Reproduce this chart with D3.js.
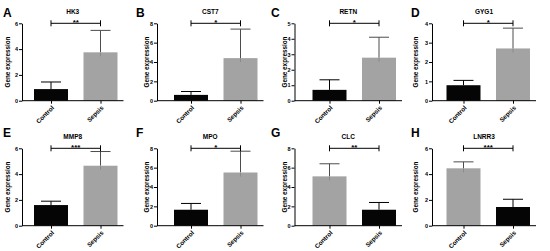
<!DOCTYPE html>
<html lang="en">
<head>
  <meta charset="UTF-8">
  <title>Gene expression</title>
  <script src="https://cdn.jsdelivr.net/npm/d3@7"></script>
  <style>
    body { margin: 0; background: #fff; }
    text { font-family: "Liberation Sans", Arial, sans-serif; fill: #000; }
  </style>
</head>
<body>
  <svg id="chart"></svg>
  <script>
    // data
    var letters = ["A", "B", "C", "D", "E", "F", "G", "H"];
    var genes = ["HK3", "CST7", "RETN", "GYG1", "MMP8", "MPO", "CLC", "LNRR3"];
    var groups = ["Control", "Sepsis"];
    var controlMean = [0.9, 0.6, 0.7, 0.8, 1.6, 1.65, 5.1, 4.45];
    var controlSD = [0.55, 0.35, 0.65, 0.25, 0.3, 0.65, 1.3, 0.5];
    var sepsisMean = [3.75, 4.4, 2.78, 2.7, 4.65, 5.5, 1.65, 1.45];
    var sepsisSD = [1.7, 3.0, 1.32, 1.05, 1.1, 2.2, 0.75, 0.6];
    var yMax = [6, 8, 5, 4, 6, 8, 8, 6];
    var yStep = [2, 2, 1, 1, 2, 2, 2, 2];
    var stars = ["**", "*", "*", "*", "***", "*", "**", "***"];

    // layout
    var width = 550, height = 251;
    var colAxisX = [22, 157, 294.5, 432];
    var colCenterOff = [29, 34, 35, 31.5];
    var colTitleOff = [12.5, 7.7, 7.8, 13.8];
    var rowTop = [23.3, 148.3];
    var rowBottom = [100.7, 225.7];
    var colLetterX = [3, 136, 271, 411];
    var rowLetterY = [17, 137];
    var barW = 34, capW = 20, barGap = 49.5;

    var svg = d3.select("#chart")
        .attr("width", width)
        .attr("height", height);

    genes.forEach(function(gene, i) {
      var col = i % 4, row = Math.floor(i / 4);
      var ax = colAxisX[col];
      var c0 = ax + colCenterOff[col];
      var xEnd = c0 + barGap + 23;

      var x = d3.scalePoint().domain(groups).range([c0, c0 + barGap]);
      var y = d3.scaleLinear().domain([0, yMax[i]]).range([rowBottom[row], rowTop[row]]);

      var means = [controlMean[i], sepsisMean[i]];
      var sds = [controlSD[i], sepsisSD[i]];
      var hi = means[0] > means[1] ? 0 : 1;
      var bars = groups.map(function(g, k) {
        return { group: g, mean: means[k], sd: sds[k], gray: k === hi };
      });

      var g = svg.append("g");

      // error bars (upper only, the bar covers the lower half)
      var eb = g.selectAll(".err").data(bars).enter().append("g")
          .attr("stroke", function(d) { return d.gray ? "#4d4d4d" : "#000"; })
          .attr("stroke-width", 1);
      eb.append("line")
          .attr("x1", function(d) { return x(d.group); })
          .attr("x2", function(d) { return x(d.group); })
          .attr("y1", function(d) { return y(d.mean); })
          .attr("y2", function(d) { return y(d.mean + d.sd); });
      eb.append("line")
          .attr("x1", function(d) { return x(d.group) - capW / 2; })
          .attr("x2", function(d) { return x(d.group) + capW / 2; })
          .attr("y1", function(d) { return y(d.mean + d.sd); })
          .attr("y2", function(d) { return y(d.mean + d.sd); });

      g.selectAll("rect").data(bars).enter().append("rect")
          .attr("x", function(d) { return x(d.group) - barW / 2; })
          .attr("width", barW)
          .attr("y", function(d) { return y(d.mean); })
          .attr("height", function(d) { return y(0) - y(d.mean); })
          .attr("fill", function(d) { return d.gray ? "#a3a3a3" : "#050505"; });

      // gray bar error line shows through a little at the top
      g.selectAll(".inner").data(bars.filter(function(d) { return d.gray; })).enter().append("line")
          .attr("x1", function(d) { return x(d.group); })
          .attr("x2", function(d) { return x(d.group); })
          .attr("y1", function(d) { return y(d.mean); })
          .attr("y2", function(d) { return y(d.mean) + 4; })
          .attr("stroke", "#8a8a8a");

      // y axis
      var yAxis = g.append("g")
          .attr("transform", "translate(" + ax + ",0)")
          .call(d3.axisLeft(y)
              .tickValues(d3.range(0, yMax[i] + 0.001, yStep[i]))
              .tickFormat(d3.format("d"))
              .tickSize(3)
              .tickSizeOuter(0)
              .tickPadding(1));
      yAxis.selectAll("text").style("font-size", "5.5px").style("font-weight", "bold")
          .style("font-family", "'Liberation Sans', Arial, sans-serif");

      // x axis
      var xAxis = g.append("g")
          .attr("transform", "translate(0," + rowBottom[row] + ")")
          .call(d3.axisBottom(x).tickSize(3).tickSizeOuter(0));
      xAxis.select(".domain").attr("d", "M" + ax + ",0H" + xEnd);
      xAxis.selectAll("text")
          .style("font-size", "6.3px").style("font-weight", "bold")
          .style("font-family", "'Liberation Sans', Arial, sans-serif")
          .attr("text-anchor", "end")
          .attr("y", 0).attr("dy", 0)
          .attr("transform", "translate(3,7.5) rotate(-45)");

      // y title
      g.append("text")
          .attr("transform", "translate(" + (ax - colTitleOff[col]) + "," + ((rowTop[row] + rowBottom[row]) / 2) + ") rotate(-90)")
          .attr("text-anchor", "middle")
          .style("font-size", "6.3px").style("font-weight", "bold")
          .text("Gene expression");

      // gene title
      g.append("text")
          .attr("x", (ax + xEnd) / 2)
          .attr("y", rowTop[row] - 9.5)
          .attr("text-anchor", "middle")
          .style("font-size", "6.5px").style("font-weight", "bold")
          .text(gene);

      // panel letter
      g.append("text")
          .attr("x", colLetterX[col])
          .attr("y", rowLetterY[row])
          .style("font-size", "12px").style("font-weight", "bold")
          .text(letters[i]);

      // significance bracket
      var by = y(yMax[i]);
      var br = g.append("g").attr("stroke", "#000").attr("stroke-width", 1).attr("fill", "none");
      br.append("path")
          .attr("d", "M" + x("Control") + "," + (by - 3) + "V" + (by + 3) +
                     "M" + x("Control") + "," + by + "H" + x("Sepsis") +
                     "M" + x("Sepsis") + "," + (by - 3) + "V" + (by + 3));
      g.append("text")
          .attr("x", (x("Control") + x("Sepsis")) / 2)
          .attr("y", by + 1.5)
          .attr("text-anchor", "middle")
          .style("font-size", "8px").style("font-weight", "bold")
          .text(stars[i]);
    });
  </script>
</body>
</html>
